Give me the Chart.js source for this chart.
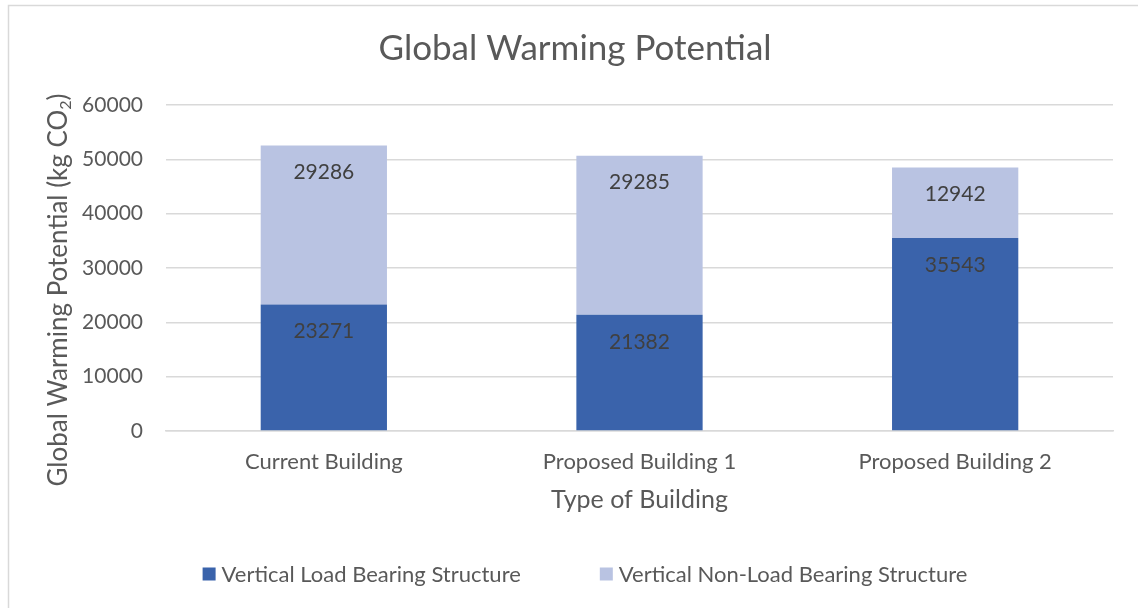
<!DOCTYPE html>
<html>
<head>
<meta charset="utf-8">
<title>Global Warming Potential</title>
<script src="https://cdn.jsdelivr.net/npm/chart.js@4.4.1/dist/chart.umd.min.js"></script>
<style>
  html, body { margin: 0; padding: 0; background: #ffffff; }
  #wrap { position: relative; width: 1138px; height: 608px; }
</style>
</head>
<body>
<div id="wrap"><canvas id="chart"></canvas></div>
<script>
// Building types on the category axis
const categories = ['Current Building', 'Proposed Building 1', 'Proposed Building 2'];

// Embodied carbon per structural group (kg CO2)
const loadBearing = [23271, 21382, 35543];
const nonLoadBearing = [29286, 29285, 12942];

// Series names
const seriesNames = ['Vertical Load Bearing Structure', 'Vertical Non-Load Bearing Structure'];

// Value axis ticks
const yTicks = [0, 10000, 20000, 30000, 40000, 50000, 60000];

const FONT = 'Lato, "Open Sans", sans-serif';
const TEXT = '#595959';
const GRID = '#d9d9d9';
const COLORS = ['#3a63ab', '#b9c3e2'];

// Frame around the whole chart
const framePlugin = {
  id: 'frame',
  beforeDraw(chart) {
    const ctx = chart.ctx;
    ctx.save();
    ctx.fillStyle = '#ffffff';
    ctx.fillRect(0, 0, chart.width, chart.height);
    ctx.strokeStyle = GRID;
    ctx.lineWidth = 1.5;
    ctx.strokeRect(8.5, 5.5, chart.width + 20, chart.height + 20);
    ctx.restore();
  }
};

// Value labels at the inside top of each segment
const valueLabels = {
  id: 'valueLabels',
  afterDatasetsDraw(chart) {
    const ctx = chart.ctx;
    ctx.save();
    ctx.font = '21px ' + FONT;
    ctx.fillStyle = '#404040';
    ctx.textAlign = 'center';
    ctx.textBaseline = 'middle';
    chart.data.datasets.forEach((ds, i) => {
      chart.getDatasetMeta(i).data.forEach((bar, j) => {
        ctx.fillText(String(ds.data[j]), bar.x, bar.y + 27);
      });
    });
    ctx.restore();
  }
};

// Rotated value-axis title with a subscript "2"
const yTitle = {
  id: 'yTitle',
  afterDraw(chart) {
    const ctx = chart.ctx;
    const main = 'Global Warming Potential (kg CO';
    const sub = '2';
    const tail = ')';
    const big = '26px ' + FONT, small = '16px ' + FONT;
    ctx.save();
    ctx.fillStyle = TEXT;
    ctx.textBaseline = 'alphabetic';
    ctx.textAlign = 'left';
    ctx.font = big;
    const wMain = ctx.measureText(main).width;
    const wTail = ctx.measureText(tail).width;
    ctx.font = small;
    const wSub = ctx.measureText(sub).width;
    const total = wMain + wSub + wTail;
    ctx.translate(67, 290);
    ctx.rotate(-Math.PI / 2);
    let x = -total / 2;
    ctx.font = big;
    ctx.fillText(main, x, 0);
    x += wMain;
    ctx.font = small;
    ctx.fillText(sub, x, 4);
    x += wSub;
    ctx.font = big;
    ctx.fillText(tail, x, 0);
    ctx.restore();
  }
};

// Legend row under the axis title
const legendRow = {
  id: 'legendRow',
  afterDraw(chart) {
    const ctx = chart.ctx;
    const box = 13, gapText = 6, gapItem = 79, cx = 585, cy = 574;
    ctx.save();
    ctx.font = '22px ' + FONT;
    ctx.textBaseline = 'middle';
    ctx.textAlign = 'left';
    const items = chart.data.datasets.map(ds => ({
      label: ds.label, color: ds.backgroundColor, w: ctx.measureText(ds.label).width
    }));
    let total = 0;
    items.forEach((it, i) => { total += box + gapText + it.w + (i ? gapItem : 0); });
    let x = cx - total / 2;
    items.forEach((it, i) => {
      if (i) x += gapItem;
      ctx.fillStyle = it.color;
      ctx.fillRect(x, cy - box / 2, box, box);
      x += box + gapText;
      ctx.fillStyle = TEXT;
      ctx.fillText(it.label, x, cy + 1);
      x += it.w;
    });
    ctx.restore();
  }
};

new Chart(document.getElementById('chart'), {
  type: 'bar',
  data: {
    labels: categories,
    datasets: [
      { label: seriesNames[0], data: loadBearing, backgroundColor: COLORS[0] },
      { label: seriesNames[1], data: nonLoadBearing, backgroundColor: COLORS[1] }
    ]
  },
  options: {
    responsive: true,
    maintainAspectRatio: false,
    devicePixelRatio: 1,
    animation: false,
    layout: { padding: { left: 37, right: 25, top: 0, bottom: 93 } },
    datasets: { bar: { categoryPercentage: 1, barPercentage: 0.4, borderWidth: 0 } },
    plugins: {
      legend: { display: false },
      tooltip: { enabled: false },
      title: {
        display: true,
        text: 'Global Warming Potential',
        color: TEXT,
        font: { family: FONT, size: 35, weight: 'normal' },
        padding: { top: 28, bottom: 35 }
      }
    },
    scales: {
      x: {
        stacked: true,
        afterFit(scale) { scale.height = 84; },
        grid: { display: false, drawTicks: false },
        border: { display: true, color: GRID, width: 1.5 },
        ticks: { color: TEXT, font: { family: FONT, size: 22 }, padding: 18 },
        title: {
          display: true,
          text: 'Type of Building',
          color: TEXT,
          font: { family: FONT, size: 25 },
          padding: { top: 0, bottom: 0 }
        }
      },
      y: {
        stacked: true,
        min: yTicks[0],
        max: yTicks[yTicks.length - 1],
        afterBuildTicks(scale) { scale.ticks = yTicks.map(v => ({ value: v })); },
        afterFit(scale) { scale.width = 129; },
        grid: { color: GRID, lineWidth: 1.5, drawTicks: false },
        border: { display: false },
        ticks: {
          color: TEXT,
          font: { family: FONT, size: 21 },
          padding: 23,
          callback: v => String(v)
        }
      }
    }
  },
  plugins: [framePlugin, valueLabels, yTitle, legendRow]
});
</script>
</body>
</html>
